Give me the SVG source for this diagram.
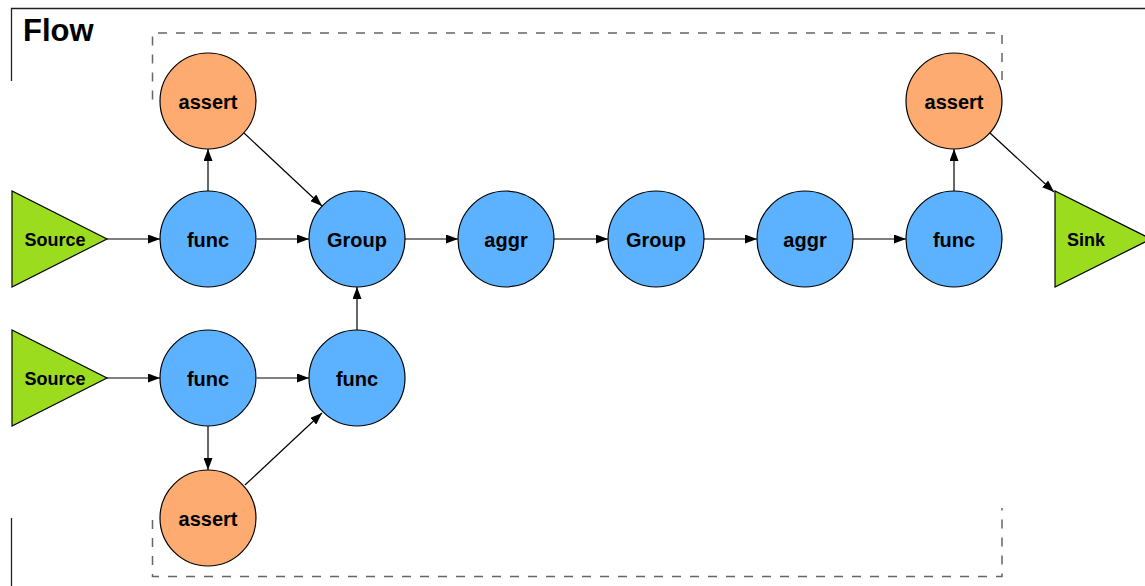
<svg xmlns="http://www.w3.org/2000/svg" width="1145" height="586" viewBox="0 0 1145 586">
<style>
.t{font-family:"Liberation Sans",Arial,sans-serif;font-weight:bold;fill:#000;text-anchor:middle}
.n{font-size:20px}
.s{font-size:18px}
.blue{fill:#5DB2FF;stroke:#000;stroke-width:1.2}
.orange{fill:#FDAB71;stroke:#000;stroke-width:1.2}
.green{fill:#9CDC1E;stroke:#000;stroke-width:1.2}
.e{stroke:#000;stroke-width:1.2;fill:none;marker-end:url(#ah)}
.dash{fill:none;stroke:#666;stroke-width:1.5;stroke-dasharray:9,9}
</style>
<defs>
<marker id="ah" markerUnits="userSpaceOnUse" markerWidth="12" markerHeight="9" refX="12" refY="4.5" orient="auto">
<path d="M0,0 L12,4.5 L0,9 z" fill="#000"/>
</marker>
</defs>
<rect width="1145" height="586" fill="#fff"/>
<g id="frame">
<path d="M11.5,81 V8.5 H1145" fill="none" stroke="#222" stroke-width="1.3"/>
<path d="M11.5,518 V586" fill="none" stroke="#222" stroke-width="1.3"/>
<text x="23" y="41" class="t" style="font-size:31px;text-anchor:start">Flow</text>
</g>
<g id="group-box">
<path class="dash" d="M1002,80 V33 H152.5 V102"/>
<path class="dash" d="M152.5,520 V576.5 H1002 V508"/>
</g>
<g id="edges">
<line class="e" x1="107" y1="239" x2="160" y2="239"/>
<line class="e" x1="257" y1="239" x2="309" y2="239"/>
<line class="e" x1="208" y1="191" x2="208" y2="149"/>
<line class="e" x1="244" y1="133" x2="322" y2="206"/>
<line class="e" x1="405" y1="239" x2="458" y2="239"/>
<line class="e" x1="554" y1="239" x2="608" y2="239"/>
<line class="e" x1="704" y1="239" x2="757" y2="239"/>
<line class="e" x1="853" y1="239" x2="906" y2="239"/>
<line class="e" x1="954" y1="191" x2="954" y2="149"/>
<line class="e" x1="990" y1="133" x2="1054" y2="192"/>
<line class="e" x1="107" y1="378" x2="160" y2="378"/>
<line class="e" x1="257" y1="378" x2="309" y2="378"/>
<line class="e" x1="208" y1="426" x2="208" y2="470"/>
<line class="e" x1="245" y1="485" x2="322" y2="413"/>
<line class="e" x1="357" y1="330" x2="357" y2="287"/>
</g>
<g id="source1"><polygon class="green" points="12,191 12,287 107,239"/><text class="t s" x="55" y="246">Source</text></g>
<g id="source2"><polygon class="green" points="12,330 12,426 107,378"/><text class="t s" x="55" y="385">Source</text></g>
<g id="sink"><polygon class="green" points="1055,191 1055,287 1151,239"/><text class="t s" x="1086" y="246">Sink</text></g>
<g id="func1"><circle class="blue" cx="208" cy="239" r="48"/><text class="t n" x="208" y="247">func</text></g>
<g id="assert1"><circle class="orange" cx="208" cy="101" r="48"/><text class="t n" x="208" y="109">assert</text></g>
<g id="group1"><circle class="blue" cx="357" cy="239" r="48"/><text class="t n" x="357" y="247">Group</text></g>
<g id="aggr1"><circle class="blue" cx="506" cy="239" r="48"/><text class="t n" x="506" y="247">aggr</text></g>
<g id="group2"><circle class="blue" cx="656" cy="239" r="48"/><text class="t n" x="656" y="247">Group</text></g>
<g id="aggr2"><circle class="blue" cx="805" cy="239" r="48"/><text class="t n" x="805" y="247">aggr</text></g>
<g id="func3"><circle class="blue" cx="954" cy="239" r="48"/><text class="t n" x="954" y="247">func</text></g>
<g id="assert3"><circle class="orange" cx="954" cy="101" r="48"/><text class="t n" x="954" y="109">assert</text></g>
<g id="func2a"><circle class="blue" cx="208" cy="378" r="48"/><text class="t n" x="208" y="386">func</text></g>
<g id="func2b"><circle class="blue" cx="357" cy="378" r="48"/><text class="t n" x="357" y="386">func</text></g>
<g id="assert2"><circle class="orange" cx="208" cy="518" r="48"/><text class="t n" x="208" y="526">assert</text></g>
</svg>
